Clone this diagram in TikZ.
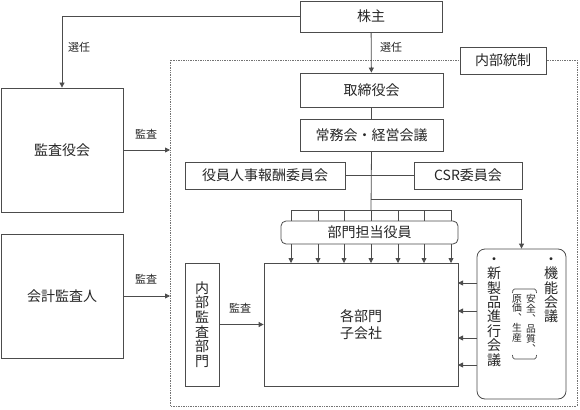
\documentclass[tikz,border=0pt]{standalone}
\usepackage{fontspec}
\setmainfont{Noto Sans CJK JP}
\newfontfamily\vjp[RawFeature=+vert]{Noto Sans CJK JP}
\usetikzlibrary{arrows.meta}
\begin{document}
\begin{tikzpicture}[x=1pt,y=-1pt,
  line width=0.8pt,
  box/.style={draw=black!70, fill=white, inner sep=0pt, text=black!85, font=\fontsize{14}{15.5}\selectfont, align=center},
  rbox/.style={box, rounded corners=5pt},
  lbl/.style={inner sep=0pt, text=black!85, font=\fontsize{11}{12}\selectfont},
  vcol/.style={inner sep=0pt, text=black!85, align=center, anchor=north},
  ln/.style={draw=black!70},
  arr/.style={draw=black!70, -{Triangle[length=5pt,width=5pt]}},
  frame/.style={draw=black!55, densely dotted, line width=0.7pt}]
\useasboundingbox (0,0) rectangle (580,409);

% dotted frame of internal control
\draw[frame] (170,60) rectangle (577,406);

% boxes
\node[box, minimum width=142, minimum height=31] (kabu) at (371,16.5) {株主};
\node[box, minimum width=143, minimum height=34] (tori) at (371.5,90) {取締役会};
\node[box, minimum width=143, minimum height=32] (jomu) at (371.5,135) {常務会・経営会議};
\node[box, minimum width=86, minimum height=27] (naibu) at (503,60.5) {内部統制};
\node[box, minimum width=122, minimum height=124] (kansa) at (62,150) {監査役会};
\node[box, minimum width=122, minimum height=124] (kaikei) at (62,296) {会計監査人};
\node[box, minimum width=160, minimum height=27] (yakuin) at (265,175.5) {役員人事報酬委員会};
\node[box, minimum width=108, minimum height=27] (csr) at (468,175.5) {CSR委員会};
\node[rbox, minimum width=177, minimum height=23] (bumon) at (369.5,232.5) {部門担当役員};
\node[box, minimum width=194, minimum height=123, font=\fontsize{14}{16.5}\selectfont] (kaku) at (361,324.5) {各部門\\子会社};
\node[box, minimum width=34, minimum height=123, font=\vjp\fontsize{14}{14.6}\selectfont] (naikan) at (202,324.5) {内\\部\\監\\査\\部\\門};
\node[box, rounded corners=8pt, minimum width=89, minimum height=150] (kino) at (521.5,324) {};

% text inside right box
\node[vcol, font=\vjp\fontsize{14}{14.4}\selectfont] (kcol) at (551,257) {・\\機\\能\\会\\議};
\node[vcol, font=\vjp\fontsize{14}{14.4}\selectfont] (scol) at (494,257) {・\\新\\製\\品\\進\\行\\会\\議};
\node[vcol, font=\vjp\fontsize{9.8}{9.9}\selectfont] (acol) at (531,294) {安\\全\\、\\品\\質\\、};
\node[vcol, font=\vjp\fontsize{9.8}{9.9}\selectfont] (gcol) at (517,294) {原\\価\\、\\生\\産};
\draw[ln, line width=0.7pt, rounded corners=1.5pt] (512.5,293) -- (513,289) -- (536,289) -- (536.5,293);
\draw[ln, line width=0.7pt, rounded corners=1.5pt] (512.5,355) -- (513,359) -- (536,359) -- (536.5,355);

% labels
\node[lbl] (l1) at (79,47) {選任};
\node[lbl] (l2) at (391,47.5) {選任};
\node[lbl] (l3) at (146,134) {監査};
\node[lbl] (l4) at (146,279) {監査};
\node[lbl] (l5) at (240,308) {監査};

% coordinates
\coordinate (fa) at (170,150);
\coordinate (fb) at (170,296);
\coordinate (hub) at (371,210);
\coordinate (br) at (371,199);

% connectors
\draw[arr] (kabu.west) -| (kansa.north);
\draw[arr] (kabu) -- (tori);
\draw[ln] (tori) -- (jomu);
\draw[ln] (jomu.south) -- (hub);
\draw[ln] (yakuin.east) -- (csr.west);
\draw[arr] (br) -| (kino.north);
\draw[ln] (291,210) -- (451,210);
\foreach \x in {291,318,344,371,398,424,451} {
  \draw[ln] (\x,210) -- (\x,221);
  \draw[arr] (\x,244) -- (\x,263);
}
\foreach \y in {283,311,338,365} {
  \draw[arr] (477,\y) -- (458,\y);
}
\draw[arr] (kansa.east) -- (fa);
\draw[arr] (kaikei.east) -- (fb);
\draw[arr] (naikan.east) -- (naikan.east -| kaku.west);
\end{tikzpicture}
\end{document}
